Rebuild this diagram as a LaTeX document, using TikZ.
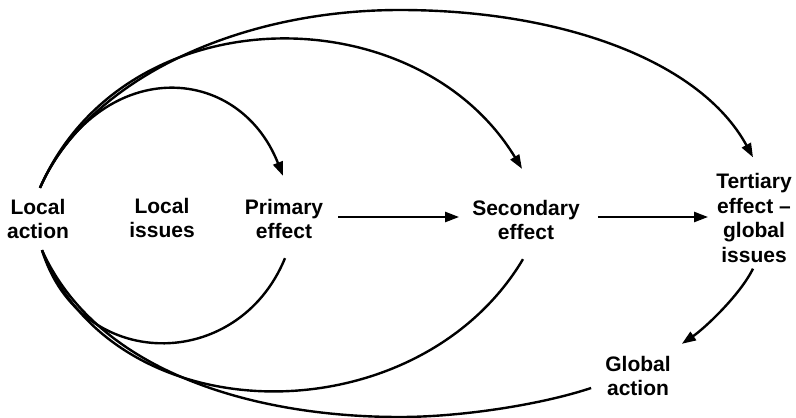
\documentclass[tikz,border=0pt]{standalone}
\usepackage{fontspec}
\setmainfont{Liberation Sans}
\usetikzlibrary{arrows.meta}
\begin{document}
\begin{tikzpicture}[x=1pt,y=-1pt,
  lbl/.style={align=center,inner sep=0pt,font=\bfseries\fontsize{21}{24.5}\selectfont},
  conn/.style={line width=2.4pt},
  arr/.style={conn,-{Triangle[length=14pt,width=10pt]}}]
\useasboundingbox (0,0) rectangle (796,418);
% nodes
\node[lbl] (la) at (38,219) {Local\\action};
\node[lbl] (li) at (162,218) {Local\\issues};
\node[lbl] (pe) at (284,219) {Primary\\effect};
\node[lbl] (se) at (526,220) {Secondary\\effect};
\node[lbl] (te) at (754,218) {Tertiary\\effect --\\global\\issues};
\node[lbl] (ga) at (638,376) {Global\\action};
\coordinate (top3) at (400,10);
\coordinate (bot3) at (400,417);
% top arcs
\draw[arr] ([shift={(2,-11)}]la.north) .. controls (100,55) and (238,62) .. ([shift={(-1,-23)}]pe.north);
\draw[arr] ([shift={(2,-11)}]la.north) .. controls (125,-6) and (416,-6) .. ([shift={(-4,-31)}]se.north);
\draw[arr] ([shift={(2,-11)}]la.north) .. controls (85,85) and (230,10) .. (top3)
  .. controls (560,10) and (700,60) .. ([shift={(-1,-16)}]te.north);
% bottom arcs
\draw[conn] ([shift={(4,11)}]la.south) .. controls (80,373) and (238,373) .. ([shift={(1,19)}]pe.south);
\draw[conn] ([shift={(4,11)}]la.south) .. controls (115,437) and (417,437) .. ([shift={(-3,19)}]se.south);
\draw[conn] ([shift={(4,11)}]la.south) .. controls (96,370) and (250,417) .. (bot3)
  .. controls (460,417) and (540,405) .. ([shift={(-14,12)}]ga.west);
% straight arrows
\draw[arr] ([shift={(15,-2)}]pe.east) -- ([shift={(-13,-3)}]se.west);
\draw[arr] ([shift={(18,-3)}]se.east) -- ([shift={(-8,-1)}]te.west);
% tertiary to global action
\draw[arr] ([shift={(-1,6)}]te.south) .. controls (740,295) and (705,328) .. ([shift={(11,-12)}]ga.north east);
\end{tikzpicture}
\end{document}
